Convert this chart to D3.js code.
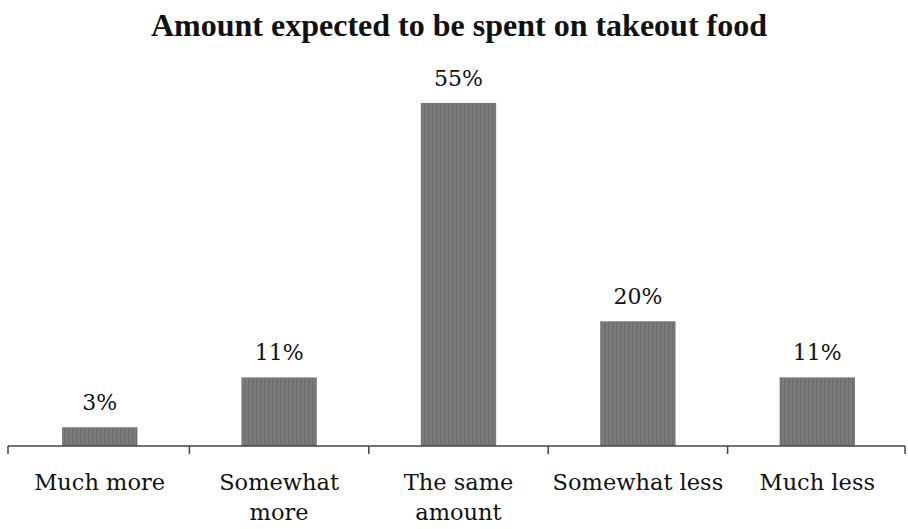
<!DOCTYPE html>
<html>
<head>
<meta charset="utf-8">
<script src="https://cdn.jsdelivr.net/npm/d3@7"></script>
<style>
  body { margin: 0; background: #fff; }
</style>
</head>
<body>
<div class="chart"></div>
<script>
// chart data
const categories = ["Much more", "Somewhat more", "The same amount", "Somewhat less", "Much less"];
const labelLines = [["Much more"], ["Somewhat", "more"], ["The same", "amount"], ["Somewhat less"], ["Much less"]];
const values = [3, 11, 55, 20, 11];
const valueLabels = ["3%", "11%", "55%", "20%", "11%"];

const width = 908, height = 529;
const svg = d3.select(".chart")
  .append("svg")
  .attr("width", width)
  .attr("height", height);

// faint stripy grey fill, like the scanned original
const pat = svg.append("defs").append("pattern")
  .attr("id", "stripes")
  .attr("patternUnits", "userSpaceOnUse")
  .attr("width", 4).attr("height", 4);
pat.append("rect").attr("width", 4).attr("height", 4).attr("fill", "#7b7b7b");
pat.append("rect").attr("width", 1.5).attr("height", 4).attr("fill", "#6f6f6f");

const x = d3.scaleBand()
  .domain(categories)
  .range([10, 907])
  .paddingInner(0.58)
  .paddingOuter(0.29);

const y = d3.scaleLinear()
  .domain([0, 55])
  .range([446, 103]);

svg.append("text")
  .text("Amount expected to be spent on takeout food")
  .attr("x", 459)
  .attr("y", 36)
  .attr("text-anchor", "middle")
  .style("font-family", "'Liberation Serif', serif")
  .style("font-weight", "bold")
  .style("font-size", "32px")
  .attr("fill", "#111");

// bars
svg.selectAll("rect.bar")
  .data(values)
  .join("rect")
  .attr("class", "bar")
  .attr("x", (d, i) => x(categories[i]))
  .attr("y", d => y(d))
  .attr("width", x.bandwidth())
  .attr("height", d => y(0) - y(d))
  .attr("fill", "url(#stripes)");

svg.selectAll("text.val")
  .data(values)
  .join("text")
  .attr("class", "val")
  .text((d, i) => valueLabels[i])
  .attr("x", (d, i) => x(categories[i]) + x.bandwidth() / 2)
  .attr("y", d => y(d) - 17)
  .attr("text-anchor", "middle")
  .style("font-family", "'DejaVu Serif', serif")
  .style("font-size", "22px")
  .attr("fill", "#111");

// axis line with boundary ticks
const axisY = y(0);
const edges = [8].concat(categories.map(c => x(c) + x.bandwidth() + x.step() * x.paddingInner() / 2));
edges[edges.length - 1] = 905;
svg.append("line")
  .attr("x1", 8).attr("x2", 905)
  .attr("y1", axisY).attr("y2", axisY)
  .attr("stroke", "#444").attr("stroke-width", 1.5);
svg.selectAll("line.tick")
  .data(edges)
  .join("line")
  .attr("class", "tick")
  .attr("x1", d => d).attr("x2", d => d)
  .attr("y1", axisY).attr("y2", axisY + 8)
  .attr("stroke", "#444").attr("stroke-width", 1.5);

const cat = svg.selectAll("text.cat")
  .data(labelLines)
  .join("text")
  .attr("class", "cat")
  .attr("text-anchor", "middle")
  .style("font-family", "'DejaVu Serif', serif")
  .style("font-size", "22.5px")
  .attr("fill", "#111");
cat.selectAll("tspan")
  .data((d, i) => d.map(t => ({ t, i })))
  .join("tspan")
  .text(d => d.t)
  .attr("x", d => x(categories[d.i]) + x.bandwidth() / 2)
  .attr("y", (d, j) => 490 + j * 30);
</script>
</body>
</html>
